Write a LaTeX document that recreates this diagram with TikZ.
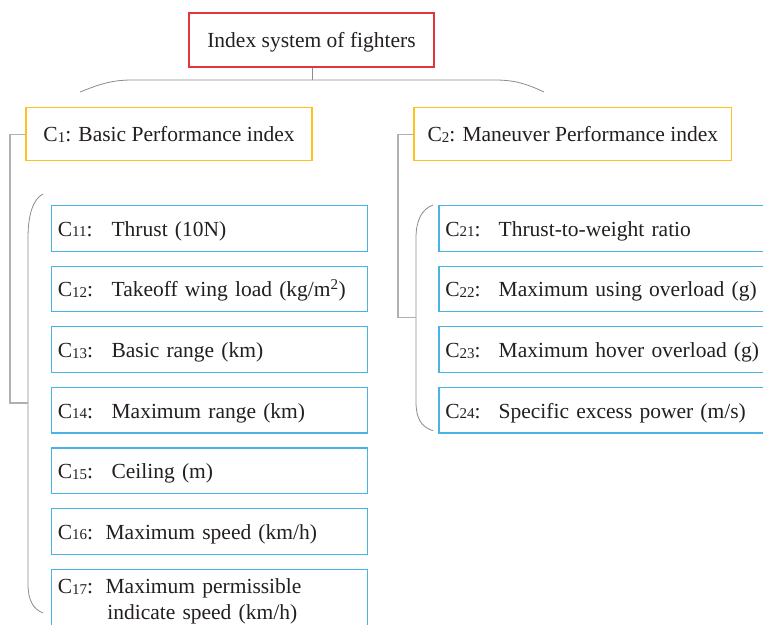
\documentclass[tikz,border=0pt]{standalone}
\usepackage{fontspec}
\setmainfont{Liberation Serif}
\definecolor{rootred}{RGB}{228,52,60}
\definecolor{catgold}{RGB}{255,193,30}
\definecolor{itemblue}{RGB}{72,180,230}
\definecolor{txtgray}{RGB}{35,31,32}
\definecolor{linkgray}{RGB}{176,176,176}
\definecolor{bracegray}{RGB}{140,140,140}
\newcommand{\csub}[1]{\raisebox{-0.6pt}{\fontsize{15}{15}\selectfont #1}}
\tikzset{
  basefont/.style={font=\fontsize{21.5}{26}\selectfont, text=txtgray},
  rootbox/.style={basefont, draw=rootred, line width=1.3pt, minimum width=245pt, minimum height=54pt, inner sep=0pt},
  catbox/.style={basefont, draw=catgold, line width=1.3pt, minimum height=53pt, inner sep=0pt},
  itembox/.style={basefont, draw=itemblue, line width=1.2pt, anchor=north west, minimum height=45.5pt, inner xsep=6.3pt, inner ysep=0pt, align=left},
  oneline/.style={text height=16pt, text depth=0pt},
  litem/.style={itembox, minimum width=316pt, text width=303.4pt},
  ritem/.style={itembox, oneline, minimum width=360pt, text width=347pt},
  link/.style={draw=linkgray, line width=1.4pt},
  brace/.style={draw=bracegray, line width=0.8pt},
}
\begin{document}
\begin{tikzpicture}[x=1pt,y=-1pt]
\useasboundingbox (0,0) rectangle (763,624);
\clip (0,0) rectangle (763,624);
\fill[white] (0,0) rectangle (763,624);

% root
\node[rootbox, text height=15pt, text depth=0pt] (root) at (311.5,40) {Index system of fighters};

% top brace
\coordinate (tbl) at (80,92);
\coordinate (tbm) at (312,80);
\coordinate (tbr) at (544,92);
\draw[brace] (tbl) .. controls (100,84) and (112,80) .. (132,80) -- (495,80) .. controls (515,80) and (527,84) .. (tbr);
\draw[brace] (root.south -| tbm) -- (tbm);

% categories
\node[catbox, minimum width=286pt] (c1) at (169,134.3) {C\csub{1}: Basic Performance index};
\node[catbox, minimum width=317.7pt] (c2) at (572.8,134.3) {C\csub{2}: Maneuver Performance index};

% left items
\node[litem, oneline] (c11) at (51,205.0) {\makebox[53.7pt][l]{C\csub{11}:}Thrust (10N)};
\node[litem, oneline] (c12) at (51,265.6) {\makebox[53.7pt][l]{C\csub{12}:}Takeoff wing load (kg/m\textsuperscript{2})};
\node[litem, oneline] (c13) at (51,326.2) {\makebox[53.7pt][l]{C\csub{13}:}Basic range (km)};
\node[litem, oneline] (c14) at (51,386.8) {\makebox[53.7pt][l]{C\csub{14}:}Maximum range (km)};
\node[litem, oneline] (c15) at (51,447.4) {\makebox[53.7pt][l]{C\csub{15}:}Ceiling (m)};
\node[litem, oneline] (c16) at (51,508.0) {\makebox[47.7pt][l]{C\csub{16}:}Maximum speed (km/h)};
\node[litem, minimum height=0pt, inner ysep=9.5pt] (c17) at (51,568.6)
  {\makebox[47.7pt][l]{C\csub{17}:}Maximum permissible\\\hspace*{49.4pt}indicate speed (km/h)};

% right items
\node[ritem] (c21) at (438.3,205.0) {\makebox[53.3pt][l]{C\csub{21}:}Thrust-to-weight ratio};
\node[ritem] (c22) at (438.3,265.6) {\makebox[53.3pt][l]{C\csub{22}:}Maximum using overload (g)};
\node[ritem] (c23) at (438.3,326.2) {\makebox[53.3pt][l]{C\csub{23}:}Maximum hover overload (g)};
\node[ritem] (c24) at (438.3,386.8) {\makebox[53.3pt][l]{C\csub{24}:}Specific excess power (m/s)};

% left bracket
\coordinate (lbt) at (43,194);
\coordinate (lbm) at (28,403);
\coordinate (lbb) at (43,613);
\draw[brace] (lbt) .. controls (33,199) and (28,215) .. (28,238) -- (28,584) .. controls (28,600) and (33,609) .. (lbb);
\draw[link] (c1.west) -- (10,134.3) |- (lbm);

% right bracket
\coordinate (rbt) at (433,205);
\coordinate (rbm) at (416,317.7);
\coordinate (rbb) at (433,430.7);
\draw[brace] (rbt) .. controls (422,209) and (416,220) .. (416,238) -- (416,402) .. controls (416,418) and (421,427) .. (rbb);
\draw[link] (c2.west) -- (398,134.3) |- (rbm);
\end{tikzpicture}
\end{document}
